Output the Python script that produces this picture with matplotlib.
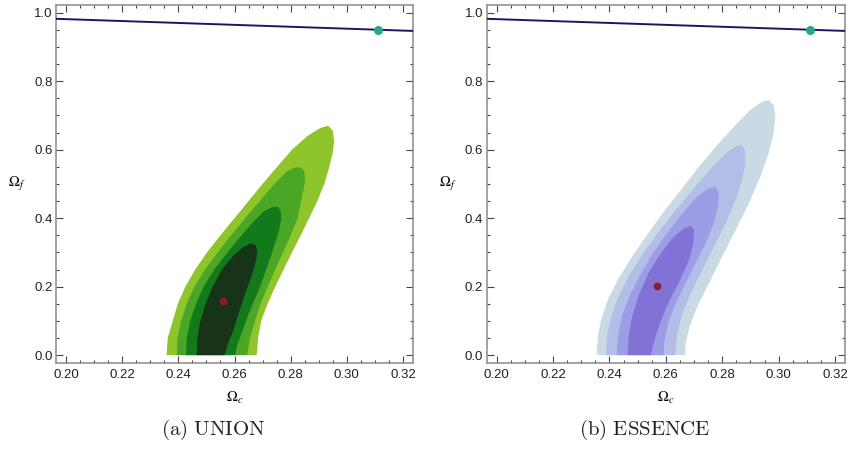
"""
Two-panel Omega_f vs Omega_c confidence regions (UNION / ESSENCE).
"""

import matplotlib.pyplot as plt
import numpy as np
from matplotlib.ticker import FixedLocator, MultipleLocator, FormatStrFormatter

OUTPUT = "out.png"

# flatness-like reference line and its marked point
LINE_X = [0.19, 0.33]
LINE_Y = [0.984, 0.945]
FIDUCIAL = (0.311, 0.950)

# best-fit points
UNION_BEST = (0.256, 0.159)
ESSENCE_BEST = (0.2567, 0.201)

# UNION contours, outermost first (Omega_c, Omega_f)
UNION_C4 = [
    (.2358, 0), (.2362, .05), (.2380, .10), (.2398, .15), (.2425, .20),
    (.2460, .25), (.2502, .30), (.2550, .35), (.2600, .40), (.2650, .45),
    (.2700, .50), (.2752, .55), (.2805, .60), (.2860, .64), (.2905, .663),
    (.2934, .670), (.2950, .655), (.2955, .625), (.2950, .59), (.2938, .55),
    (.2920, .50), (.2895, .45), (.2866, .40), (.2836, .35), (.2805, .30),
    (.2775, .25), (.2745, .20), (.2718, .15), (.2695, .10), (.2684, .05),
    (.2679, 0),
]
UNION_C3 = [
    (.2394, 0), (.2397, .05), (.2410, .10), (.2430, .15), (.2457, .20),
    (.2495, .25), (.2540, .30), (.2588, .35), (.2638, .40), (.2690, .45),
    (.2742, .50), (.2785, .535), (.2815, .548), (.2835, .549), (.2848, .538),
    (.2852, .515), (.2848, .49), (.2840, .46), (.2825, .40), (.2800, .35),
    (.2773, .30), (.2745, .25), (.2718, .20), (.2693, .15), (.2673, .10),
    (.2655, .05), (.2645, 0),
]
UNION_C2 = [
    (.2427, 0), (.2430, .05), (.2442, .10), (.2463, .15), (.2490, .20),
    (.2528, .25), (.2575, .30), (.2625, .35), (.2668, .39), (.2705, .42),
    (.2735, .433), (.2755, .433), (.2766, .418), (.2766, .395), (.2758, .36),
    (.2742, .32), (.2722, .27), (.2700, .22), (.2676, .17), (.2650, .12),
    (.2628, .07), (.2610, .03), (.2602, 0),
]
UNION_C1 = [
    (.2465, 0), (.2468, .05), (.2478, .10), (.2497, .15), (.2522, .20),
    (.2555, .25), (.2595, .29), (.2630, .315), (.2658, .326), (.2675, .322),
    (.2681, .305), (.2678, .28), (.2668, .25), (.2652, .21), (.2634, .17),
    (.2614, .12), (.2595, .07), (.2575, .03), (.2564, 0),
]

# ESSENCE contours, outermost first
ESSENCE_C4 = [
    (.2355, 0), (.2359, .054), (.2370, .102), (.2394, .161), (.2429, .219),
    (.2476, .282), (.2529, .346), (.2588, .414), (.2653, .482), (.2717, .550),
    (.2782, .614), (.2847, .672), (.2899, .716), (.2941, .740), (.2964, .745),
    (.2982, .730), (.2988, .696), (.2982, .648), (.2964, .589), (.2935, .521),
    (.2894, .443), (.2847, .365), (.2799, .287), (.2752, .209), (.2711, .141),
    (.2684, .083), (.2670, .034), (.2668, 0),
]
ESSENCE_C3 = [
    (.2388, 0), (.2391, .054), (.2403, .102), (.2427, .161), (.2464, .224),
    (.2511, .287), (.2570, .355), (.2635, .424), (.2700, .487), (.2759, .545),
    (.2812, .589), (.2847, .609), (.2870, .614), (.2882, .594), (.2882, .560),
    (.2870, .511), (.2847, .453), (.2812, .385), (.2770, .317), (.2729, .248),
    (.2688, .180), (.2658, .122), (.2641, .063), (.2633, 0),
]
ESSENCE_C2 = [
    (.2426, 0), (.2430, .054), (.2444, .112), (.2470, .171), (.2506, .229),
    (.2553, .297), (.2605, .356), (.2658, .414), (.2711, .463), (.2752, .487),
    (.2776, .492), (.2788, .472), (.2785, .433), (.2770, .385), (.2741, .326),
    (.2705, .268), (.2664, .200), (.2629, .141), (.2605, .083), (.2594, .034),
    (.2592, 0),
]
ESSENCE_C1 = [
    (.2464, 0), (.2468, .054), (.2480, .112), (.2506, .180), (.2541, .244),
    (.2582, .297), (.2623, .341), (.2664, .370), (.2688, .378), (.2700, .365),
    (.2697, .326), (.2682, .278), (.2653, .224), (.2617, .166), (.2588, .112),
    (.2567, .063), (.2553, .024), (.2547, 0),
]

GREENS = ["#8ec52b", "#4aa624", "#137a1c", "#173418"]
BLUES = ["#c9dae4", "#b3bee8", "#9d9ce6", "#8272d6"]

XTICKS = [0.20, 0.22, 0.24, 0.26, 0.28, 0.30, 0.32]
YTICKS = [0.0, 0.2, 0.4, 0.6, 0.8, 1.0]


def draw_panel(ax, contours, colors, best, xlim):
    for pts, col in zip(contours, colors):
        arr = np.array(pts)
        ax.fill(arr[:, 0], arr[:, 1], color=col, lw=0, zorder=1)

    ax.plot(LINE_X, LINE_Y, color="#1c1660", lw=1.4, zorder=3)
    ax.plot(*FIDUCIAL, "o", ms=6.5, color="#27a78a", mec="none", zorder=4)
    ax.plot(*best, "o", ms=5.5, color="#8c1a2f", mec="none", zorder=4)

    ax.set_xlim(*xlim)
    ax.set_ylim(-0.023, 1.0225)

    ax.xaxis.set_major_locator(FixedLocator(XTICKS))
    ax.xaxis.set_minor_locator(MultipleLocator(0.005))
    ax.yaxis.set_major_locator(FixedLocator(YTICKS))
    ax.yaxis.set_minor_locator(MultipleLocator(0.05))
    ax.xaxis.set_major_formatter(FormatStrFormatter("%.2f"))
    ax.yaxis.set_major_formatter(FormatStrFormatter("%.1f"))

    ax.tick_params(which="both", direction="in", top=True, right=True,
                   color="#444444", width=0.8, labelsize=9.5,
                   labelcolor="#222222")
    ax.tick_params(which="major", length=4.8)
    ax.tick_params(which="minor", length=2.4)
    ax.tick_params(axis="x", pad=4.5)
    ax.tick_params(axis="y", pad=2.5)

    for sp in ax.spines.values():
        sp.set_color("#8a8a8a")
        sp.set_linewidth(1.1)

    ax.text(0.5, -0.098, r"$\mathit{\Omega}_c$", transform=ax.transAxes,
            ha="center", va="center", fontsize=10.5, math_fontfamily="stix")
    ax.text(-0.11, 0.5, r"$\mathit{\Omega}_f$", transform=ax.transAxes,
            ha="center", va="center", fontsize=10.5, math_fontfamily="stix")


def main():
    plt.rcParams["font.family"] = ["Liberation Sans", "DejaVu Sans"]

    fig = plt.figure(figsize=(8.5, 4.49), dpi=100)
    ax_a = fig.add_axes([56 / 850, 86 / 449, 357 / 850, 358 / 449])
    ax_b = fig.add_axes([486.7 / 850, 86 / 449, 358.3 / 850, 358 / 449])

    draw_panel(ax_a, [UNION_C4, UNION_C3, UNION_C2, UNION_C1], GREENS,
               UNION_BEST, (0.1964, 0.3236))
    draw_panel(ax_b, [ESSENCE_C4, ESSENCE_C3, ESSENCE_C2, ESSENCE_C1], BLUES,
               ESSENCE_BEST, (0.1965, 0.3235))

    fig.text(213 / 850, 1 - 430 / 449, r"$\mathrm{(a)\ UNION}$",
             ha="center", va="center", fontsize=15, math_fontfamily="cm",
             color="#222222")
    fig.text(645 / 850, 1 - 430 / 449, r"$\mathrm{(b)\ ESSENCE}$",
             ha="center", va="center", fontsize=15, math_fontfamily="cm",
             color="#222222")

    fig.savefig(OUTPUT, dpi=100, facecolor="white")
    plt.close(fig)


if __name__ == "__main__":
    main()
